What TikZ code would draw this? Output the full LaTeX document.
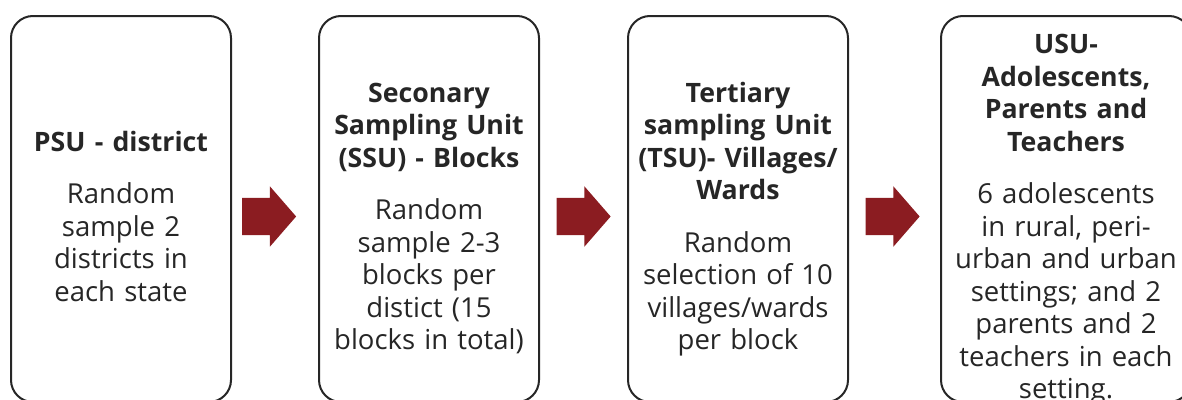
\documentclass[tikz,border=0pt]{standalone}
\usepackage{fontspec}
\setmainfont{Open Sans}
\usetikzlibrary{shapes.arrows}
\definecolor{boxline}{HTML}{262626}
\definecolor{txt}{HTML}{262626}
\definecolor{arrowred}{HTML}{8B1C21}
\newcommand{\ttl}[1]{{\fontsize{26.7pt}{32.5pt}\selectfont\bfseries #1}}
\tikzset{
  stagebox/.style={draw=boxline, line width=2pt, rounded corners=22pt, minimum height=386pt, inner sep=0pt},
  stagetext/.style={align=center, text width=270pt, inner sep=0pt, text=txt, font=\fontsize{27.5pt}{32.5pt}\selectfont},
  redarrow/.style={single arrow, fill=arrowred, draw=none, inner xsep=0pt, inner ysep=18.5pt, minimum height=54pt, single arrow head extend=11.5pt, single arrow tip angle=98, single arrow head indent=0pt}
}
\begin{document}
\begin{tikzpicture}[x=1pt,y=-1pt]
\useasboundingbox (0,0) rectangle (1182,399);
\node[stagebox, minimum width=220pt] (b1) at (121,209) {};
\node[stagebox, minimum width=220pt] (b2) at (429,209) {};
\node[stagebox, minimum width=220pt] (b3) at (738,209) {};
\node[stagebox, minimum width=250pt] (b4) at (1066,209) {};
\node[stagetext] (t1) at (121,219.5) {\strut\ttl{PSU - district}\\[20pt]Random\\sample 2\\districts in\\each state\strut};
\node[stagetext] (t2) at (429,219.5) {\strut\ttl{Seconary}\\\ttl{Sampling Unit}\\\ttl{(SSU) - Blocks}\\[20pt]Random\\sample 2-3\\blocks per\\distict (15\\blocks in total)\strut};
\node[stagetext] (t3) at (738,219.5) {\strut\ttl{Tertiary}\\\ttl{sampling Unit}\\\ttl{(TSU)- Villages/}\\\ttl{Wards}\\[20pt]Random\\selection of 10\\villages/wards\\per block\strut};
\node[stagetext] (t4) at (1066,219.5) {\strut\ttl{USU-}\\\ttl{Adolescents,}\\\ttl{Parents and}\\\ttl{Teachers}\\[20pt]6 adolescents\\in rural, peri-\\urban and urban\\settings; and 2\\parents and 2\\teachers in each\\setting.\strut};
\node[redarrow] (a1) at (261,216.5) {};
\node[redarrow] (a2) at (575.5,216.5) {};
\node[redarrow] (a3) at (884.5,216.5) {};
\end{tikzpicture}
\end{document}
